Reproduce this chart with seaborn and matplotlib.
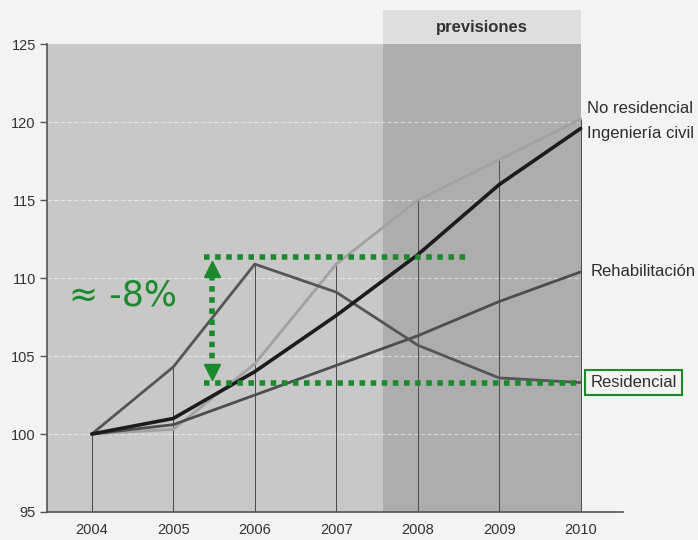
import numpy as np
import pandas as pd
import seaborn as sns
import matplotlib.pyplot as plt

# Data (index, 2004 = 100)
years = [2004, 2005, 2006, 2007, 2008, 2009, 2010]
residencial = [100, 104.3, 110.9, 109.1, 105.7, 103.6, 103.3]
no_residencial = [100, 100.3, 104.5, 110.9, 115.0, 117.6, 120.2]
ingenieria_civil = [100, 101.0, 104.0, 107.6, 111.5, 116.0, 119.6]
rehabilitacion = [100, 100.6, 102.5, 104.4, 106.3, 108.5, 110.4]
y_ticks = [95, 100, 105, 110, 115, 120, 125]

series = {
    "No residencial": no_residencial,
    "Rehabilitación": rehabilitacion,
    "Residencial": residencial,
    "Ingeniería civil": ingenieria_civil,
}
df = pd.DataFrame(
    [(s, y, v) for s, vals in series.items() for y, v in zip(years, vals)],
    columns=["serie", "year", "value"],
)

sns.set_style("white")
plt.rcParams["font.family"] = ["Liberation Sans", "DejaVu Sans"]

fig = plt.figure(figsize=(6.98, 5.4), dpi=100, facecolor="#f3f3f3")
ax = fig.add_axes([0.0673, 0.0519, 0.8253, 0.9296])
ax.set_facecolor("#f3f3f3")

x_left, x_right = 2003.45, 2010.52
y_top = 127.2
ax.set_xlim(x_left, x_right)
ax.set_ylim(95, y_top)

# gray plot panel and forecast band
ax.fill_between([x_left, 2010], 95, 125, color="#c8c8c8", lw=0, zorder=0)
ax.fill_between([2007.58, 2010], 95, 125, color="#adadad", lw=0, zorder=0)
ax.fill_between([2007.58, 2010], 125, y_top, color="#dedede", lw=0, zorder=0)
ax.text(2008.79, 126.1, "previsiones", ha="center", va="center",
        fontsize=12, fontweight="bold", color="#333333")

# faint horizontal grid
for t in y_ticks[1:-1]:
    ax.plot([x_left, 2010], [t, t], color="white", lw=0.8, ls=(0, (4, 2)),
            alpha=0.5, zorder=1)

# drop lines at each year up to the highest series
tops = df.groupby("year")["value"].max()
ax.vlines(tops.index, 95, tops.values, color="#4a4a4a", lw=0.7, zorder=1)

styles = {
    "No residencial": ("#a2a2a2", 2.0),
    "Rehabilitación": ("#4d4d4d", 2.0),
    "Residencial": ("#555555", 2.0),
    "Ingeniería civil": ("#1c1c1c", 2.6),
}
for name, (col, lw) in styles.items():
    sub = df[df["serie"] == name]
    sns.lineplot(data=sub, x="year", y="value", color=col, lw=lw, ax=ax,
                 zorder=3)

# right-hand labels
lab_kw = dict(fontsize=12, color="#2e2e2e", va="center", clip_on=False)
ax.text(2010.08, 120.85, "No residencial", **lab_kw)
ax.text(2010.08, 119.25, "Ingeniería civil", **lab_kw)
ax.text(2010.12, 110.45, "Rehabilitación", **lab_kw)
ax.text(2010.12, 103.3, "Residencial", **lab_kw,
        bbox=dict(boxstyle="square,pad=0.3", fc="none", ec="#1a8a2a", lw=1.5))

# green annotation
green = "#1a8a2a"
ax.plot([2005.38, 2008.6], [111.35, 111.35], color=green, lw=4,
        ls=(0, (1, 1)), zorder=5)
ax.plot([2005.38, 2010.0], [103.25, 103.25], color=green, lw=4,
        ls=(0, (1, 1)), zorder=5)
ax.plot([2005.48, 2005.48], [110.2, 104.3], color=green, lw=4,
        ls=(0, (1, 1)), zorder=5)
ax.plot(2005.48, 110.6, marker="^", ms=12, color=green, zorder=5)
ax.plot(2005.48, 104.0, marker="v", ms=12, color=green, zorder=5)
ax.text(2003.72, 108.9, "≈ -8%", fontsize=25, color=green, va="center",
        family=["DejaVu Sans"])

# axes styling
ax.set_xlabel("")
ax.set_ylabel("")
ax.set_xticks(years)
ax.set_xticklabels([str(y) for y in years])
ax.set_yticks(y_ticks)
ax.tick_params(axis="x", length=0, pad=8, labelsize=10.5, labelcolor="#333333")
ax.tick_params(axis="y", length=5, width=1, color="#555555", pad=3,
               labelsize=10.5, labelcolor="#333333", left=True)
for s in ["top", "right"]:
    ax.spines[s].set_visible(False)
ax.spines["left"].set_bounds(95, 125)
ax.spines["left"].set_color("#555555")
ax.spines["bottom"].set_color("#555555")
ax.spines["left"].set_linewidth(1.2)
ax.spines["bottom"].set_linewidth(1.2)

fig.savefig("out.png", dpi=100, facecolor=fig.get_facecolor())
